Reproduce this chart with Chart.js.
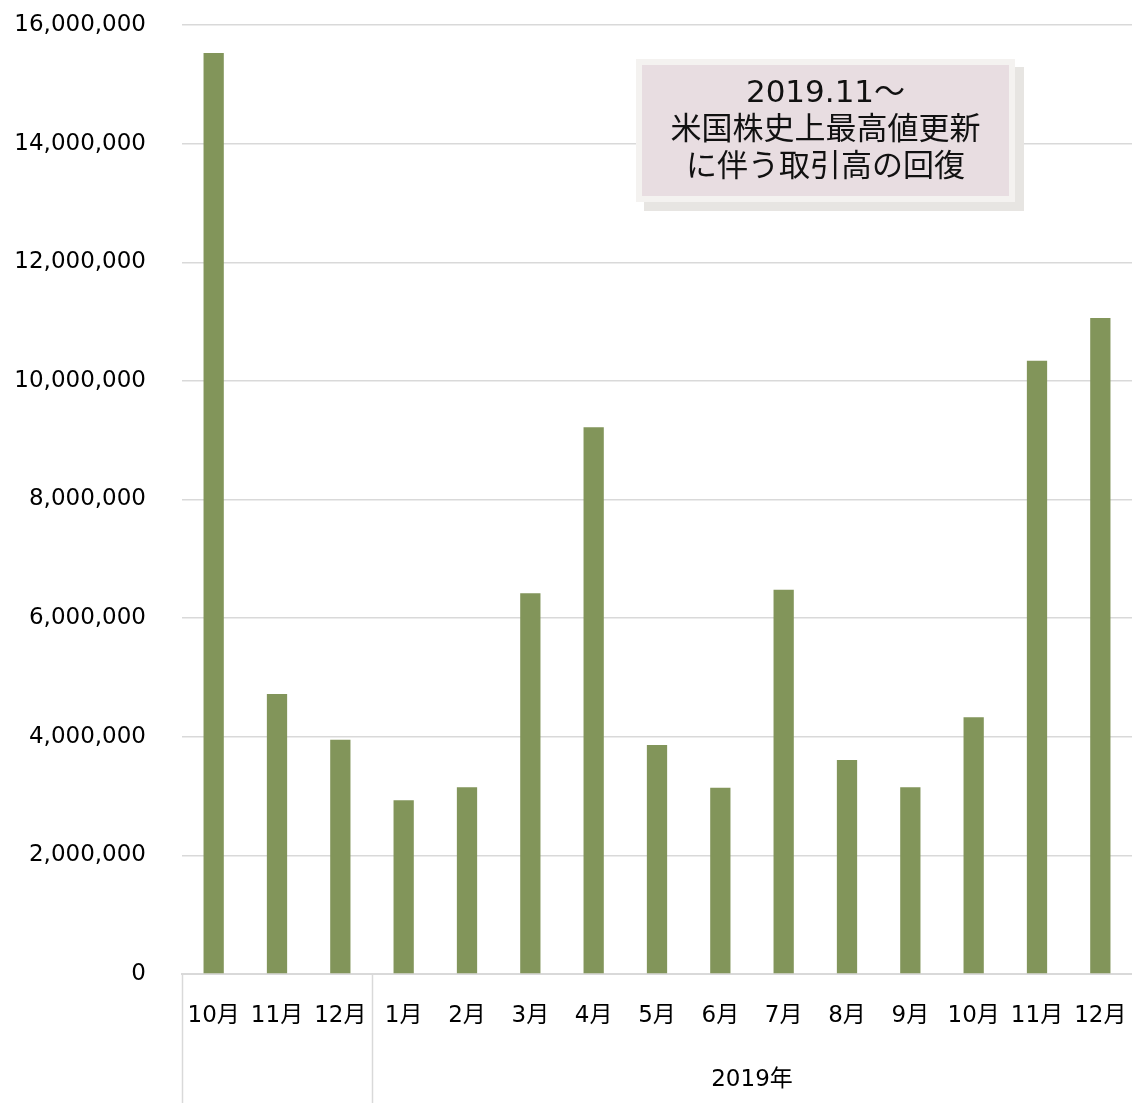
<!DOCTYPE html>
<html>
<head>
<meta charset="utf-8">
<script src="https://cdn.jsdelivr.net/npm/chart.js@4"></script>
<style>
  html, body { margin: 0; padding: 0; background: #fff; }
  #wrap { width: 1132px; height: 1103px; }
</style>
</head>
<body>
<div id="wrap"><canvas id="volumeChart" width="1132" height="1103"></canvas></div>
<script>
var categories = ["10月", "11月", "12月", "1月", "2月", "3月", "4月", "5月", "6月", "7月", "8月", "9月", "10月", "11月", "12月"];
var volumes = [15530000, 4720000, 3950000, 2930000, 3150000, 6420000, 9220000, 3860000, 3140000, 6480000, 3610000, 3150000, 4330000, 10340000, 11060000];
var yearGroups = [
  { label: "", from: 0, to: 2 },
  { label: "2019年", from: 3, to: 14 }
];
var noteLines = ["2019.11～", "米国株史上最高値更新", "に伴う取引高の回復"];

var FONT = "'DejaVu Sans', 'Noto Sans CJK JP', sans-serif";

// group separators under the x axis, year label and the note box
var extrasPlugin = {
  id: "extras",
  afterDraw: function (chart) {
    var ctx = chart.ctx;
    var x = chart.scales.x;
    var area = chart.chartArea;
    var half = (x.getPixelForValue(1) - x.getPixelForValue(0)) / 2;
    ctx.save();
    ctx.strokeStyle = "#d9d9d9";
    ctx.lineWidth = 1.5;
    yearGroups.forEach(function (g) {
      var left = x.getPixelForValue(g.from) - half;
      var right = x.getPixelForValue(g.to) + half;
      ctx.beginPath();
      ctx.moveTo(Math.round(left) + 0.5, area.bottom);
      ctx.lineTo(Math.round(left) + 0.5, chart.height);
      ctx.stroke();
      if (g.label) {
        ctx.fillStyle = "#000";
        ctx.font = "23px " + FONT;
        ctx.textAlign = "center";
        ctx.textBaseline = "middle";
        ctx.fillText(g.label, (left + right) / 2, 1080);
      }
    });

    // note box
    var bx = 636, by = 59, bw = 379, bh = 143;
    ctx.fillStyle = "#e7e5e2";
    ctx.fillRect(bx + 8, by + 8, bw + 1, bh + 1);
    ctx.fillStyle = "#f4f2f0";
    ctx.fillRect(bx, by, bw, bh);
    ctx.fillStyle = "#e8dde1";
    ctx.fillRect(bx + 6, by + 6, bw - 12, bh - 12);
    ctx.fillStyle = "#111";
    ctx.font = "31px " + FONT;
    ctx.textAlign = "center";
    ctx.textBaseline = "middle";
    noteLines.forEach(function (t, i) {
      ctx.fillText(t, bx + bw / 2, by + 35 + i * 37);
    });
    ctx.restore();
  }
};

var ctx = document.getElementById("volumeChart").getContext("2d");
var volumeChart = new Chart(ctx, {
  type: "bar",
  data: {
    labels: categories,
    datasets: [
      {
        data: volumes,
        backgroundColor: "#82955a",
        barPercentage: 0.32,
        categoryPercentage: 1.0
      }
    ]
  },
  plugins: [extrasPlugin],
  options: {
    responsive: false,
    animation: false,
    layout: { padding: { top: 25, right: 0, left: 0, bottom: 0 } },
    plugins: {
      legend: { display: false },
      tooltip: { enabled: false }
    },
    scales: {
      x: {
        grid: { display: false, drawTicks: false },
        border: { color: "#d9d9d9", width: 2 },
        ticks: {
          color: "#000",
          font: { family: FONT, size: 23 },
          padding: 28,
          maxRotation: 0,
          autoSkip: false
        },
        afterFit: function (scale) {
          scale.height = 129;
          scale.paddingLeft = 0;
          scale.paddingRight = 0;
        }
      },
      y: {
        min: 0,
        max: 16000000,
        grid: { color: "#d9d9d9", lineWidth: 1.5, drawTicks: false },
        border: { display: false },
        ticks: {
          stepSize: 2000000,
          color: "#000",
          padding: 36,
          font: { family: FONT, size: 23 },
          callback: function (v) { return v.toLocaleString("en-US"); }
        },
        afterFit: function (scale) {
          scale.width = 182;
          scale.paddingTop = 0;
          scale.paddingBottom = 0;
        }
      }
    }
  }
});
</script>
</body>
</html>
